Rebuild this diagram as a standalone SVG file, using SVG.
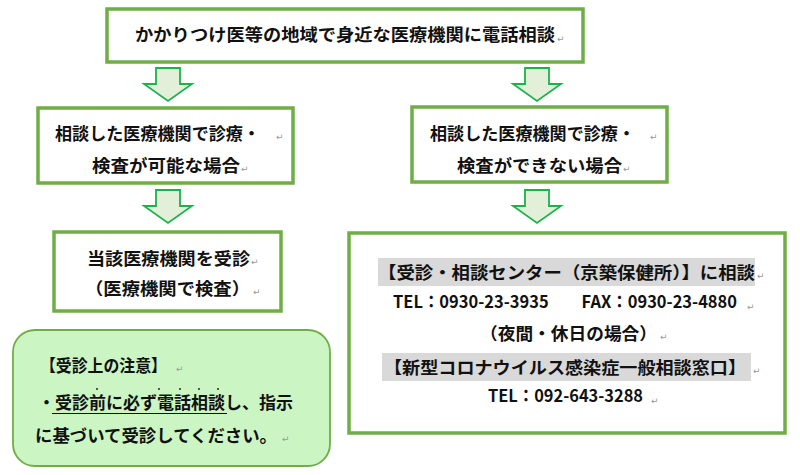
<svg xmlns="http://www.w3.org/2000/svg" width="800" height="475" viewBox="0 0 800 475">
<style>
.box{fill:#fff;stroke:#70AD47;stroke-width:3.5}
.note{fill:#CCF5C4;stroke:#70AD47;stroke-width:1.8}
.arr{fill:#E2F0D9;stroke:#1DB14B;stroke-width:1.8;stroke-linejoin:miter}
.t{font-family:"Noto Sans CJK JP","Noto Sans CJK SC",sans-serif;font-size:17px;font-weight:700;fill:#111}
.m{font-family:"DejaVu Sans",sans-serif;font-size:9px;fill:#999}
.hl{fill:#D9D9D9}
</style>
<rect width="800" height="475" fill="#fff"/>
<g id="connectors">
<polygon class="arr" points="156,68 180,68 180,84 192,84 168,101 144,84 156,84"/>
<polygon class="arr" points="525,68 549,68 549,84 561,84 537,101 513,84 525,84"/>
<polygon class="arr" points="156,190 180,190 180,206 192,206 168,223 144,206 156,206"/>
<polygon class="arr" points="525,190 549,190 549,206 561,206 537,223 513,206 525,206"/>
</g>
<g id="node-top">
<rect class="box" x="107" y="9" width="476" height="53"/>
<text class="t" x="135" y="41" textLength="420" lengthAdjust="spacingAndGlyphs">かかりつけ医等の地域で身近な医療機関に電話相談</text>
<text class="m" x="557" y="42">↵</text>
</g>
<g id="node-left2">
<rect class="box" x="38" y="108" width="255" height="75"/>
<text class="t" x="55" y="139.5" textLength="205" lengthAdjust="spacingAndGlyphs">相談した医療機関で診療・</text>
<text class="m" x="276" y="140">↵</text>
<text class="t" x="92" y="171.5" textLength="148" lengthAdjust="spacingAndGlyphs">検査が可能な場合</text>
<text class="m" x="241" y="172">↵</text>
</g>
<g id="node-right2">
<rect class="box" x="412" y="107" width="255" height="75"/>
<text class="t" x="430" y="139.5" textLength="205" lengthAdjust="spacingAndGlyphs">相談した医療機関で診療・</text>
<text class="m" x="650" y="140">↵</text>
<text class="t" x="457" y="171.5" textLength="165" lengthAdjust="spacingAndGlyphs">検査ができない場合</text>
<text class="m" x="623" y="172">↵</text>
</g>
<g id="node-left3">
<rect class="box" x="54" y="232" width="227" height="79"/>
<text class="t" x="87" y="264.5" textLength="163" lengthAdjust="spacingAndGlyphs">当該医療機関を受診</text>
<text class="m" x="251" y="265">↵</text>
<text class="t" x="85" y="294.5" textLength="165" lengthAdjust="spacingAndGlyphs">（医療機関で検査）</text>
<text class="m" x="253" y="295">↵</text>
</g>
<g id="node-right3">
<rect class="box" x="349" y="233" width="436" height="200"/>
<rect class="hl" x="378" y="258" width="377" height="28"/>
<text class="t" x="378" y="278.5" textLength="377" lengthAdjust="spacingAndGlyphs">【受診・相談センター（京築保健所）】に相談</text>
<text class="m" x="757" y="279">↵</text>
<text class="t" x="393" y="308" textLength="344" lengthAdjust="spacingAndGlyphs">TEL：0930-23-3935　　FAX：0930-23-4880</text>
<text class="m" x="747" y="310">↵</text>
<text class="t" x="480" y="339.5" textLength="177" lengthAdjust="spacingAndGlyphs">（夜間・休日の場合）</text>
<text class="m" x="660" y="340">↵</text>
<rect class="hl" x="382" y="353" width="369" height="28"/>
<text class="t" x="384" y="373.5" textLength="362" lengthAdjust="spacingAndGlyphs">【新型コロナウイルス感染症一般相談窓口】</text>
<text class="m" x="753" y="374">↵</text>
<text class="t" x="488" y="402" textLength="155" lengthAdjust="spacingAndGlyphs">TEL：092-643-3288</text>
<text class="m" x="651" y="404">↵</text>
</g>
<g id="node-note">
<rect class="note" x="13" y="330" width="317" height="136" rx="22" ry="22"/>
<text class="t" x="40" y="371.5" textLength="127" lengthAdjust="spacingAndGlyphs">【受診上の注意】</text>
<text class="m" x="176" y="372">↵</text>
<text class="t" x="38" y="408.5" textLength="255" lengthAdjust="spacingAndGlyphs">・受診前に必ず電話相談し、指示</text>
<line x1="52" y1="413.5" x2="227" y2="413.5" stroke="#111" stroke-width="1"/>
<g fill="#111">
<circle cx="97" cy="389" r="0.9"/>
<circle cx="159" cy="389" r="0.9"/>
<circle cx="180" cy="389" r="0.9"/>
<circle cx="199" cy="389" r="0.9"/>
<circle cx="218" cy="389" r="0.9"/>
</g>
<text class="t" x="35" y="441.5" textLength="242" lengthAdjust="spacingAndGlyphs">に基づいて受診してください。</text>
<text class="m" x="282" y="442">↵</text>
</g>
</svg>
